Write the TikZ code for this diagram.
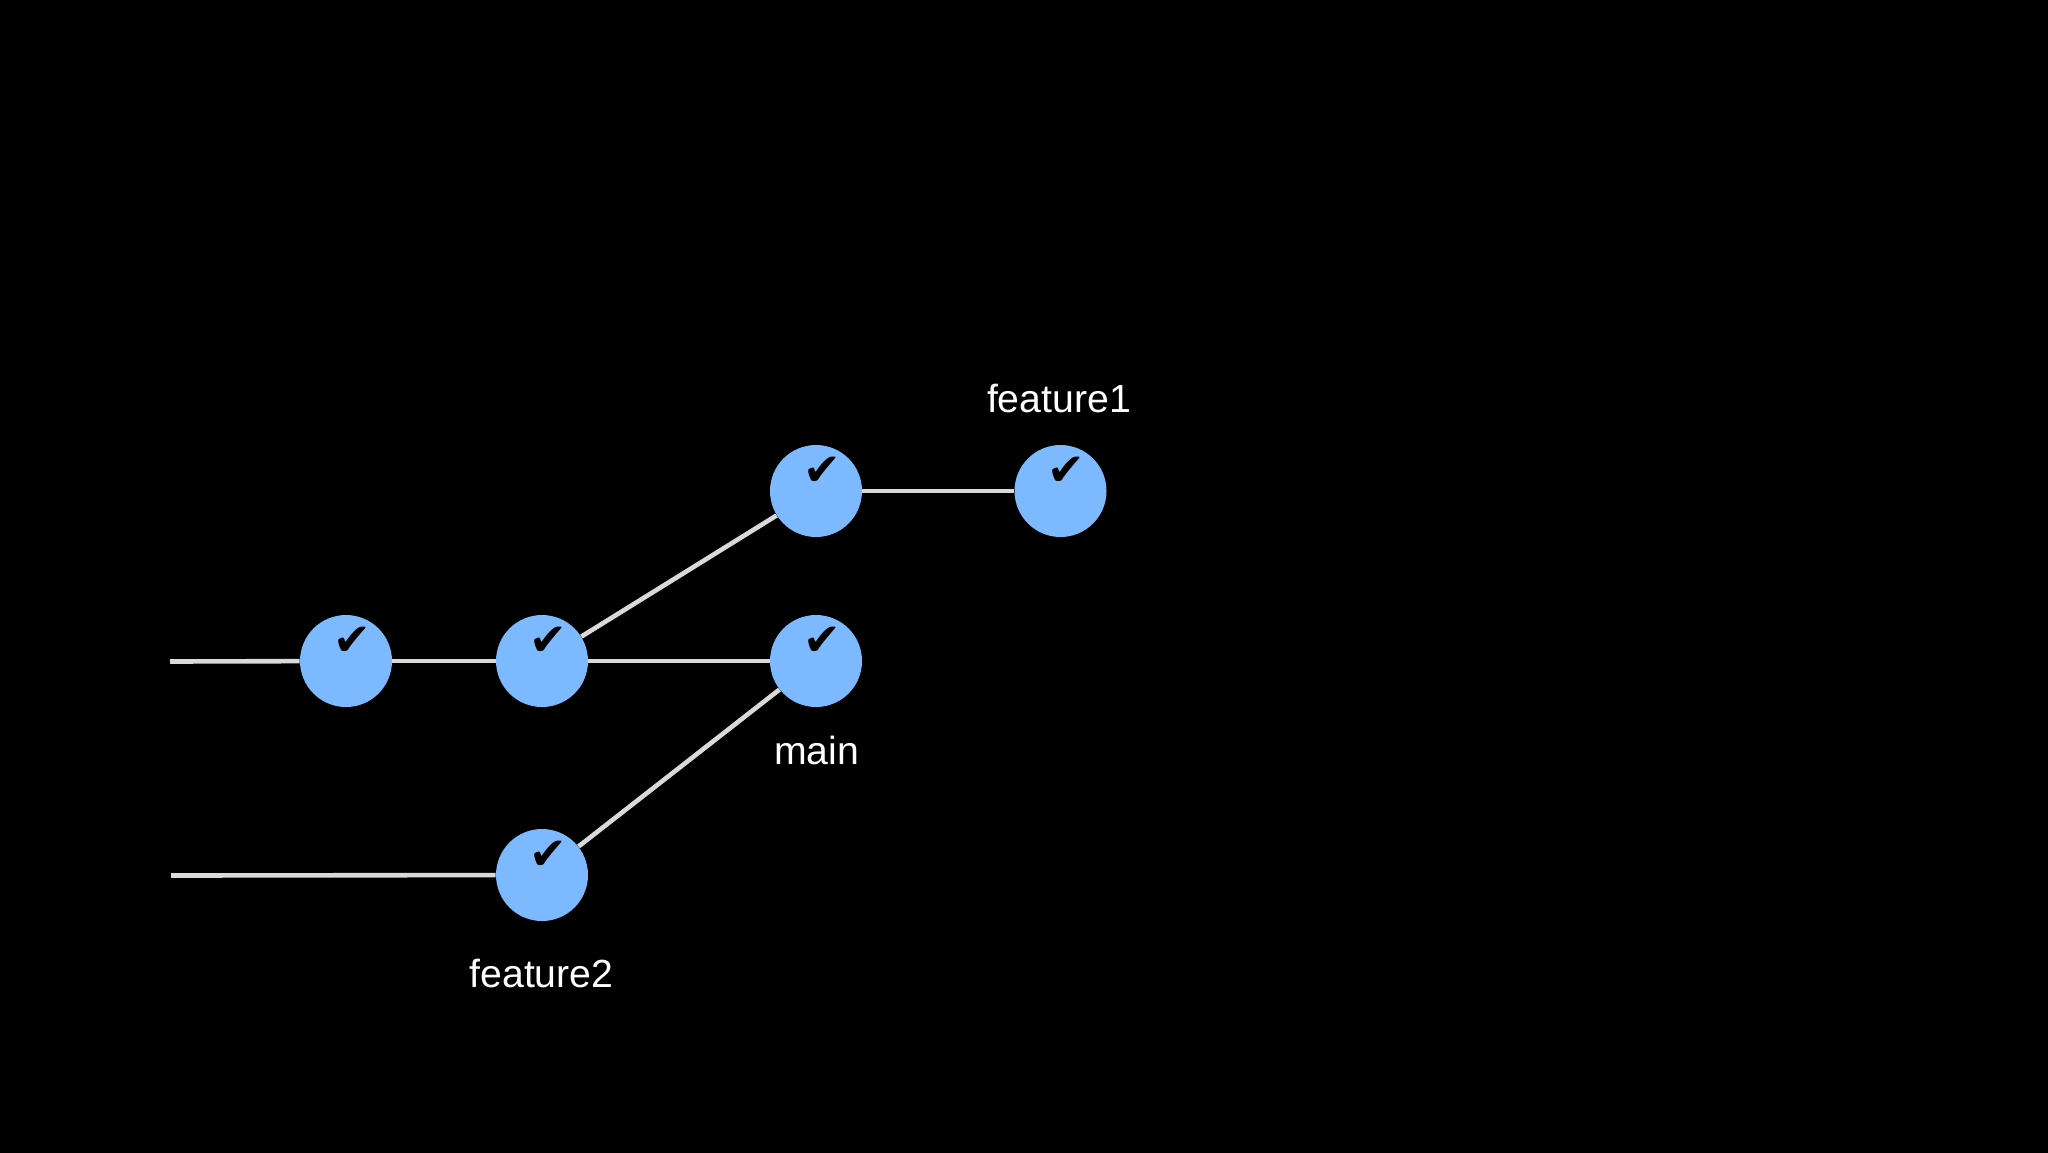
\documentclass[tikz,border=0pt]{standalone}
\usepackage{fontspec}
\setmainfont{Liberation Sans}
\newfontfamily\checkfont{DejaVu Sans}
\definecolor{bluecommit}{HTML}{7DB9FF}
\definecolor{edgegrey}{HTML}{D9D9D9}
\tikzset{
  px/.style={x=0.5pt,y=-0.5pt},
  commit/.style={circle,fill=bluecommit,draw=none,minimum size=46pt,inner sep=0pt},
  tick/.style={font=\checkfont\fontsize{22.5}{24}\selectfont,text=black,inner sep=0pt},
  edge/.style={draw=edgegrey,line width=2.3pt},
  lab/.style={font=\fontsize{19.6}{22}\selectfont,text=white,inner sep=0pt}
}
\begin{document}
\begin{tikzpicture}[px]
\useasboundingbox (0,0) rectangle (2048,1152);
\fill[black] (-20,-20) rectangle (2068,1172);
\coordinate (s1) at (170,661.5);
\coordinate (s2) at (171,875.5);
\node[commit] (a) at (346,661) {};
\node[commit] (b) at (542,661) {};
\node[commit] (c) at (816,661) {};
\node[commit] (d) at (816,491) {};
\node[commit] (e) at (1060.5,491) {};
\node[commit] (f) at (542,875) {};
\draw[edge] (s1) -- (a);
\draw[edge] (a) -- (b);
\draw[edge] (b) -- (c);
\draw[edge] (b) -- (d);
\draw[edge] (d) -- (e);
\draw[edge] (s2) -- (f);
\draw[edge] (f) -- (c);
\foreach \n in {a,b,c,d,e,f}
  \node[tick] (t\n) at ([xshift=3pt,yshift=10pt]\n.center) {✔};
\node[lab] (l1) at (1059,398) {feature1};
\node[lab] (l2) at (816.5,750) {main};
\node[lab] (l3) at (541.5,973) {feature2};
\end{tikzpicture}
\end{document}
